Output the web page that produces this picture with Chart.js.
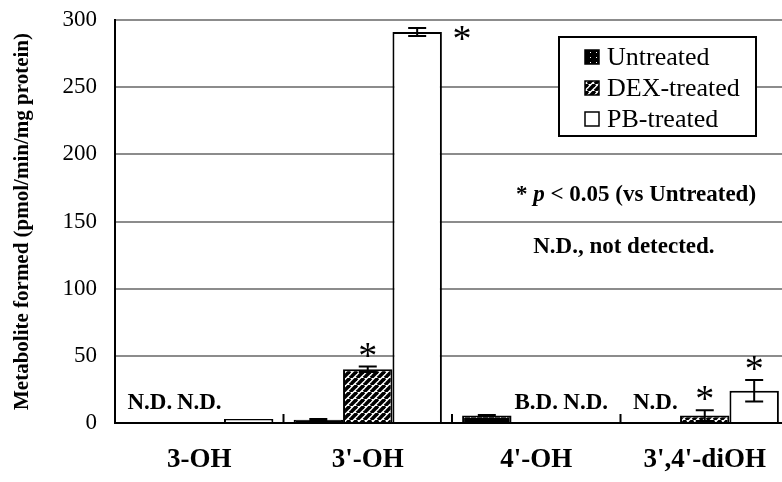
<!DOCTYPE html>
<html>
<head>
<meta charset="utf-8">
<script src="https://cdn.jsdelivr.net/npm/chart.js@4.4.0/dist/chart.umd.min.js"></script>
<style>
    html, body { margin: 0; padding: 0; overflow: hidden; background: #fff; }
    #wrap { width: 790px; height: 482px; }
</style>
</head>
<body>
<div id="wrap"><canvas id="chartMetabolite"></canvas></div>
<script>
var categories = ["3-OH", "3'-OH", "4'-OH", "3',4'-diOH"];
var seriesNames = ["Untreated", "DEX-treated", "PB-treated"];
var untreated = [null, 2.5, 5.5, null];
var dexTreated = [null, 40, null, 5.5];
var pbTreated = [3, 291, null, 24];
var untreatedErr = [0, 0.5, 0.5, 0];
var dexErr = [0, 2, 0, 4];
var pbErr = [0, 3, 0, 8];
var untreatedSig = [false, false, false, false];
var dexSig = [false, true, false, true];
var pbSig = [false, true, false, true];
var untreatedNote = ["N.D.", "", "", "N.D."];
var dexNote = ["N.D.", "", "B.D.", ""];
var pbNote = ["", "", "N.D.", ""];
var yTicks = [0, 50, 100, 150, 200, 250, 300];

var serif = "'Liberation Serif', 'Times New Roman', serif";

function makePattern(kind) {
    var c = document.createElement('canvas');
    var g = c.getContext('2d');
    if (kind == 'dots') {
        c.width = 6; c.height = 5;
        g.fillStyle = '#000';
        g.fillRect(0, 0, 6, 5);
        g.fillStyle = '#fff';
        g.fillRect(2, 2, 1, 1);
    } else {
        var s = 7;
        c.width = s; c.height = s;
        g.fillStyle = '#fff';
        g.fillRect(0, 0, s, s);
        g.strokeStyle = '#000';
        g.lineWidth = 3.6;
        for (var k = -1; k <= 1; k++) {
            g.beginPath();
            g.moveTo(k * s, s);
            g.lineTo(k * s + s, 0);
            g.stroke();
        }
    }
    return g.createPattern(c, 'repeat');
}

var untreatedFill = makePattern('dots');
var dexFill = makePattern('stripes');

var catPct = 0.88;

var extras = {
    id: 'extras',
    afterDatasetsDraw: function (chart) {
        var ctx = chart.ctx, x = chart.scales.x, y = chart.scales.y, area = chart.chartArea;
        var cw = x.getPixelForValue(1) - x.getPixelForValue(0);
        var group = cw * catPct;
        var barW = group / 3;
        ctx.save();
        ctx.strokeStyle = '#000';
        ctx.lineWidth = 2;

        // axes
        ctx.beginPath();
        ctx.moveTo(area.left, area.top);
        ctx.lineTo(area.left, area.bottom);
        ctx.lineTo(area.right, area.bottom);
        ctx.stroke();

        // small ticks between categories
        for (var i = 1; i < categories.length; i++) {
            var px = x.getPixelForValue(i) - cw / 2;
            ctx.beginPath();
            ctx.moveTo(px, area.bottom);
            ctx.lineTo(px, area.bottom - 9);
            ctx.stroke();
        }

        chart.data.datasets.forEach(function (ds, di) {
            ds.data.forEach(function (v, i) {
                var cx = x.getPixelForValue(i) - group / 2 + barW * (di + 0.5);
                if (v == null) {
                    if (ds.notes[i]) {
                        ctx.fillStyle = '#000';
                        ctx.font = 'bold 23px ' + serif;
                        ctx.textAlign = 'center';
                        ctx.textBaseline = 'middle';
                        ctx.fillText(ds.notes[i], cx, area.bottom - 20);
                    }
                    return;
                }
                var err = ds.errors[i];
                var top = y.getPixelForValue(v + err);
                if (err > 0) {
                    var bot = y.getPixelForValue(v - err);
                    ctx.beginPath();
                    ctx.moveTo(cx, top); ctx.lineTo(cx, bot);
                    ctx.moveTo(cx - 9, top); ctx.lineTo(cx + 9, top);
                    ctx.moveTo(cx - 9, bot); ctx.lineTo(cx + 9, bot);
                    ctx.stroke();
                }
                if (ds.sig[i]) {
                    ctx.fillStyle = '#000';
                    ctx.font = '38px ' + serif;
                    ctx.textAlign = 'center';
                    ctx.textBaseline = 'alphabetic';
                    var sy = top - 18;
                    var sx = cx;
                    if (sy < area.top + 10) {
                        sy = y.getPixelForValue(v);
                        sx = cx + barW / 2 + 20;
                    }
                    ctx.fillText('*', sx, sy + 19);
                }
            });
        });
        ctx.restore();
    },
    afterDraw: function (chart) {
        var ctx = chart.ctx, x = chart.scales.x, y = chart.scales.y, area = chart.chartArea;
        ctx.save();

        // legend box
        var lx = 559, ly = 37, lw = 197, lh = 99;
        ctx.fillStyle = '#fff';
        ctx.fillRect(lx, ly, lw, lh);
        ctx.strokeStyle = '#000';
        ctx.lineWidth = 2;
        ctx.strokeRect(lx, ly, lw, lh);
        ctx.font = '26px ' + serif;
        ctx.textBaseline = 'middle';
        ctx.textAlign = 'left';
        chart.data.datasets.forEach(function (ds, di) {
            var ry = ly + 20 + di * 31;
            ctx.fillStyle = ds.backgroundColor;
            ctx.fillRect(585, ry - 7, 14, 14);
            ctx.lineWidth = 1.5;
            ctx.strokeStyle = '#000';
            ctx.strokeRect(585, ry - 7, 14, 14);
            ctx.fillStyle = '#000';
            ctx.fillText(ds.label, 607, ry + 1);
        });

        // significance note
        var parts = [['* ', 'bold'], ['p', 'italic bold'], [' < 0.05 (vs Untreated)', 'bold']];
        var total = 0;
        parts.forEach(function (p) {
            ctx.font = p[1] + ' 23px ' + serif;
            total += ctx.measureText(p[0]).width;
        });
        var tx = area.left + (area.right - area.left) * 0.773 - total / 2;
        var ty = y.getPixelForValue(170);
        parts.forEach(function (p) {
            ctx.font = p[1] + ' 23px ' + serif;
            ctx.fillText(p[0], tx, ty);
            tx += ctx.measureText(p[0]).width;
        });
        ctx.font = 'bold 23px ' + serif;
        ctx.textAlign = 'center';
        ctx.fillText('N.D., not detected.', area.left + (area.right - area.left) * 0.755, y.getPixelForValue(131));
        ctx.restore();
    }
};

var data = {
    labels: categories,
    datasets: [{
        label: seriesNames[0],
        data: untreated,
        errors: untreatedErr,
        sig: untreatedSig,
        notes: untreatedNote,
        backgroundColor: untreatedFill,
        borderColor: '#000',
        borderWidth: 2
    }, {
        label: seriesNames[1],
        data: dexTreated,
        errors: dexErr,
        sig: dexSig,
        notes: dexNote,
        backgroundColor: dexFill,
        borderColor: '#000',
        borderWidth: 2
    }, {
        label: seriesNames[2],
        data: pbTreated,
        errors: pbErr,
        sig: pbSig,
        notes: pbNote,
        backgroundColor: '#fff',
        borderColor: '#000',
        borderWidth: 2
    }]
};

var canvas = document.getElementById('chartMetabolite');
var myChart = new Chart(canvas.getContext('2d'), {
    type: 'bar',
    data: data,
    options: {
        responsive: true,
        maintainAspectRatio: false,
        animation: false,
        events: [],
        layout: { padding: { top: 20, left: 10, right: 1, bottom: 0 } },
        datasets: { bar: { categoryPercentage: catPct, barPercentage: 1 } },
        plugins: { legend: { display: false }, tooltip: { enabled: false } },
        scales: {
            x: {
                grid: { display: false },
                border: { display: true, color: '#000', width: 2 },
                ticks: { color: '#000', padding: 13, font: { family: serif, size: 27, weight: 'bold' } },
                afterFit: function (scale) {
                    scale.height = 59;
                    scale.paddingLeft = 0;
                    scale.paddingRight = 0;
                }
            },
            y: {
                min: 0,
                max: 300,
                afterBuildTicks: function (scale) {
                    scale.ticks = yTicks.map(function (v) { return { value: v }; });
                },
                grid: { color: '#8c8c8c', lineWidth: 2, drawTicks: false },
                border: { display: true, color: '#000', width: 2 },
                ticks: { color: '#000', padding: 18, font: { family: serif, size: 23 } },
                title: {
                    display: true,
                    text: 'Metabolite formed (pmol/min/mg protein)',
                    color: '#000',
                    padding: 0,
                    font: { family: serif, size: 21, weight: 'bold' }
                },
                afterFit: function (scale) {
                    scale.width = 105;
                    scale.paddingTop = 0;
                    scale.paddingBottom = 0;
                }
            }
        }
    },
    plugins: [extras]
});
</script>
</body>
</html>
